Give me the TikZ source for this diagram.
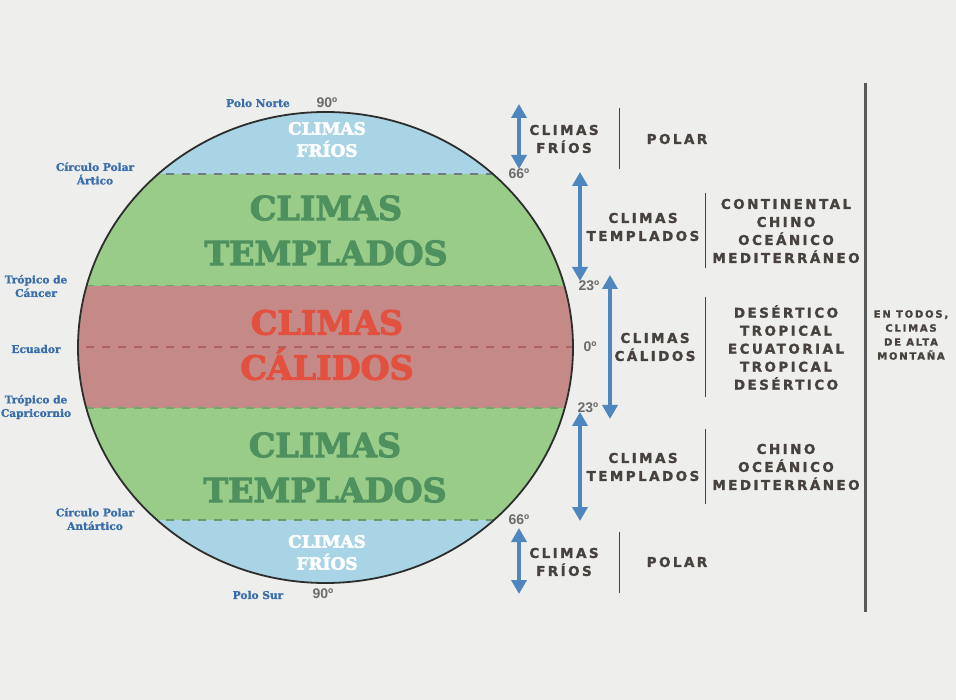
\documentclass[tikz,border=0pt]{standalone}
\usepackage{fontspec}
\usetikzlibrary{arrows.meta}
\newfontfamily\slabfont[FakeBold=3]{DejaVu Serif Bold}
\newfontfamily\slabsmall[FakeBold=1.2]{DejaVu Serif Bold}
\newfontfamily\capsfont[LetterSpace=18,FakeBold=1.5]{DejaVu Sans Bold}
\newfontfamily\degfont{Liberation Sans Bold}
\definecolor{bg}{RGB}{238,238,236}
\definecolor{polarblue}{RGB}{169,212,230}
\definecolor{tempgreen}{RGB}{152,204,136}
\definecolor{warmred}{RGB}{197,138,136}
\definecolor{tempdark}{RGB}{78,144,94}
\definecolor{warmtext}{RGB}{226,80,64}
\definecolor{labelblue}{RGB}{58,110,170}
\definecolor{arrowblue}{RGB}{79,134,190}
\definecolor{darktext}{RGB}{72,66,62}
\definecolor{deggray}{RGB}{107,107,107}
\definecolor{outline}{RGB}{45,45,45}
\definecolor{dashgray}{RGB}{110,125,130}
\definecolor{dashgreen}{RGB}{110,168,100}
\definecolor{dashred}{RGB}{176,96,96}
\tikzset{
  bandbig/.style={font=\slabfont\fontsize{33.3}{45}\selectfont, align=center, inner sep=0pt},
  bandsmall/.style={font=\slabfont\fontsize{17}{22}\selectfont, align=center, inner sep=0pt, text=white},
  geolabel/.style={font=\slabsmall\fontsize{10.6}{13.5}\selectfont, align=center, inner sep=0pt, text=labelblue},
  deg/.style={font=\degfont\fontsize{14}{14}\selectfont, inner sep=0pt, text=deggray},
  climlabel/.style={font=\capsfont\fontsize{13.5}{18}\selectfont, align=center, inner sep=0pt, text=darktext},
  smalllabel/.style={font=\capsfont\fontsize{10}{14}\selectfont, align=center, inner sep=0pt, text=darktext},
  arr/.style={arrowblue, line width=4.5pt, {Triangle[width=15pt,length=14pt]}-{Triangle[width=15pt,length=14pt]}},
  sep/.style={darktext, line width=1pt},
  bandline/.style={line width=1.6pt, dash pattern=on 8pt off 8pt}
}
\begin{document}
\begin{tikzpicture}[x=1pt,y=-1pt]
\fill[bg] (0,0) rectangle (956,700);
% globe bands
\begin{scope}
\clip (325.5,347.5) ellipse [x radius=247.5pt, y radius=235.5pt];
\fill[polarblue] (70,100) rectangle (580,174);
\fill[tempgreen] (70,174) rectangle (580,285.7);
\fill[warmred] (70,285.7) rectangle (580,408);
\fill[tempgreen] (70,408) rectangle (580,520);
\fill[polarblue] (70,520) rectangle (580,590);
\draw[bandline, dashgray] (70,174) -- (580,174);
\draw[bandline, dashgreen] (70,285.7) -- (580,285.7);
\draw[bandline, dashred] (70,347) -- (580,347);
\draw[bandline, dashgreen] (70,408) -- (580,408);
\draw[bandline, dashgreen!70!dashgray] (70,520) -- (580,520);
\end{scope}
\draw[outline, line width=1.8pt] (325.5,347.5) ellipse [x radius=247.5pt, y radius=235.5pt];
% band texts
\node[bandsmall] (fn) at (327,139.5) {CLIMAS\\FRÍOS};
\node[bandbig, text=tempdark] (tn) at (326,230.5) {CLIMAS\\TEMPLADOS};
\node[bandbig, text=warmtext] (cc) at (327,345) {CLIMAS\\CÁLIDOS};
\node[bandbig, text=tempdark] (ts) at (325,467.5) {CLIMAS\\TEMPLADOS};
\node[bandsmall] (fs) at (327,552.5) {CLIMAS\\FRÍOS};
% geographic labels
\node[geolabel] (pn) at (258,103) {Polo Norte};
\node[geolabel] (cpa) at (95,173.5) {Círculo Polar\\Ártico};
\node[geolabel] (tc) at (36,286) {Trópico de\\Cáncer};
\node[geolabel] (ec) at (36,349) {Ecuador};
\node[geolabel] (tcap) at (36,407) {Trópico de\\Capricornio};
\node[geolabel] (cpan) at (95,519) {Círculo Polar\\Antártico};
\node[geolabel] (ps) at (258,595) {Polo Sur};
% degrees
\node[deg] (d90n) at (327,103) {90º};
\node[deg] (d66n) at (519,174) {66º};
\node[deg] (d23n) at (589,286) {23º};
\node[deg] (d0) at (590,347) {0º};
\node[deg] (d23s) at (588,408) {23º};
\node[deg] (d66s) at (519,520) {66º};
\node[deg] (d90s) at (323,594) {90º};
% arrows
\coordinate (a1t) at (519,104);
\coordinate (a1b) at (519,169);
\coordinate (a2t) at (580,172);
\coordinate (a2b) at (580,281);
\coordinate (a3t) at (610,275);
\coordinate (a3b) at (610,419);
\coordinate (a4t) at (580,412);
\coordinate (a4b) at (580,521);
\coordinate (a5t) at (519,528);
\coordinate (a5b) at (519,594);
\draw[arr] (a1t) -- (a1b);
\draw[arr] (a2t) -- (a2b);
\draw[arr] (a3t) -- (a3b);
\draw[arr] (a4t) -- (a4b);
\draw[arr] (a5t) -- (a5b);
% right-side labels
\node[climlabel] (r1) at (564,139) {CLIMAS\\FRÍOS};
\coordinate (s1t) at (619,108); \coordinate (s1b) at (619,169);
\draw[sep] (s1t) -- (s1b);
\node[climlabel] (p1) at (677,139) {POLAR};
\node[climlabel] (r2) at (643,227) {CLIMAS\\TEMPLADOS};
\coordinate (s2t) at (705,193); \coordinate (s2b) at (705,268);
\draw[sep] (s2t) -- (s2b);
\node[climlabel] (l2) at (786,231) {CONTINENTAL\\CHINO\\OCEÁNICO\\MEDITERRÁNEO};
\node[climlabel] (r3) at (655,347) {CLIMAS\\CÁLIDOS};
\coordinate (s3t) at (705,297); \coordinate (s3b) at (705,397);
\draw[sep] (s3t) -- (s3b);
\node[climlabel] (l3) at (786,347.5) {DESÉRTICO\\TROPICAL\\ECUATORIAL\\TROPICAL\\DESÉRTICO};
\node[climlabel] (r4) at (643,467) {CLIMAS\\TEMPLADOS};
\coordinate (s4t) at (705,429); \coordinate (s4b) at (705,504);
\draw[sep] (s4t) -- (s4b);
\node[climlabel] (l4) at (786,467) {CHINO\\OCEÁNICO\\MEDITERRÁNEO};
\node[climlabel] (r5) at (564,562) {CLIMAS\\FRÍOS};
\coordinate (s5t) at (619,532); \coordinate (s5b) at (619,593);
\draw[sep] (s5t) -- (s5b);
\node[climlabel] (p5) at (677,562) {POLAR};
% big separator
\coordinate (bt) at (865,83); \coordinate (bb) at (865,612);
\draw[line width=3pt, color={rgb,255:red,90;green,90;blue,90}] (bt) -- (bb);
\node[smalllabel] (mt) at (911,335) {EN TODOS,\\CLIMAS\\DE ALTA\\MONTAÑA};
\end{tikzpicture}
\end{document}
